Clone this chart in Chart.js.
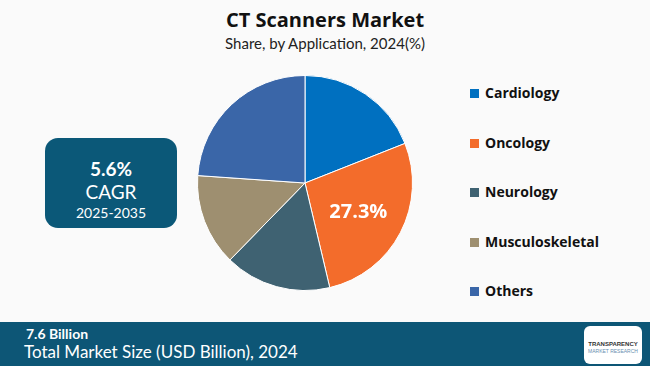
<!DOCTYPE html>
<html>
<head>
<meta charset="utf-8">
<script src="https://cdn.jsdelivr.net/npm/chart.js@4.4.1/dist/chart.umd.min.js"></script>
<style>
  html, body { margin: 0; padding: 0; }
  body { width: 650px; height: 366px; background: #fafafa; position: relative; overflow: hidden; font-family: "Open Sans", "Noto Sans", sans-serif; }
  .title { position: absolute; top: 6px; left: 0; width: 650px; text-align: center; font-size: 20px; font-weight: 700; color: #111; }
  .subtitle { position: absolute; top: 34px; left: 0; width: 650px; text-align: center; font-family: Lato, sans-serif; font-size: 15px; color: #222; }
  #pie-wrap { position: absolute; left: 185px; top: 63px; width: 240px; height: 240px; }
  .legend { position: absolute; left: 470px; top: 0; }
  .legend-item { position: absolute; left: 0; white-space: nowrap; font-size: 14px; font-weight: 700; color: #111; height: 20px; line-height: 20px; }
  .legend-item span.sw { display: inline-block; width: 9px; height: 9px; margin-right: 6px; vertical-align: 0px; }
  .cagr { position: absolute; left: 45px; top: 138px; width: 132px; height: 90px; background: #0b5878; border-radius: 13px; color: #fff; text-align: center; font-family: Lato, sans-serif; }
  .cagr .v { margin-top: 20px; font-size: 19px; font-weight: 700; line-height: 22px; }
  .cagr .l { font-size: 19px; line-height: 24px; }
  .cagr .y { font-size: 14px; line-height: 18px; }
  .footer { position: absolute; left: 0; top: 322px; width: 650px; height: 44px; background: #0d5676; color: #fff; font-family: Lato, sans-serif; }
  .footer .a { position: absolute; left: 26px; top: 3px; font-size: 14px; font-weight: 700; }
  .footer .b { position: absolute; left: 24px; top: 19px; font-size: 17px; }
  .logo { position: absolute; left: 584px; top: 326px; width: 58px; height: 38px; background: #fff; border-radius: 6px; text-align: center; font-family: "Liberation Sans", sans-serif; }
  .logo .t1 { margin-top: 15px; font-size: 6px; font-weight: 700; color: #333; line-height: 7px; }
  .logo .t2 { font-size: 5px; color: #6a8fb0; line-height: 6px; }
</style>
</head>
<body>
<div class="title">CT Scanners Market</div>
<div class="subtitle">Share, by Application, 2024(%)</div>
<div id="pie-wrap"><canvas id="pie"></canvas></div>
<div class="legend" id="legend"></div>
<div class="cagr"><div class="v">5.6%</div><div class="l">CAGR</div><div class="y">2025-2035</div></div>
<div class="footer"><div class="a">7.6 Billion</div><div class="b">Total Market Size (USD Billion), 2024</div></div>
<div class="logo"><div class="t1">TRANSPARENCY</div><div class="t2">MARKET RESEARCH</div></div>
<script>
const categories = ['Cardiology', 'Oncology', 'Neurology', 'Musculoskeletal', 'Others'];
const shares     = [19.0, 27.3, 16.0, 13.8, 23.9];
const colors     = ['#0070c0', '#f36c2b', '#3f6272', '#9e8f70', '#3a66a8'];
const labelled   = ['Oncology'];

// legend, built from the same arrays
const legendEl = document.getElementById('legend');
categories.forEach((c, i) => {
  const d = document.createElement('div');
  d.className = 'legend-item';
  d.style.top = (83 + i * 49.5) + 'px';
  d.innerHTML = `<span class="sw" style="background:${colors[i]}"></span>${c}`;
  legendEl.appendChild(d);
});

// value label on the highlighted slice only
const sliceLabel = {
  id: 'sliceLabel',
  afterDatasetsDraw(chart) {
    const { ctx } = chart;
    const meta = chart.getDatasetMeta(0);
    meta.data.forEach((arc, i) => {
      if (!labelled.includes(categories[i])) return;
      const { x, y, startAngle, endAngle, outerRadius } = arc.getProps(['x', 'y', 'startAngle', 'endAngle', 'outerRadius']);
      const mid = (startAngle + endAngle) / 2;
      const r = outerRadius * 0.56;
      ctx.save();
      ctx.fillStyle = '#fff';
      ctx.font = 'bold 20px "Open Sans", sans-serif';
      ctx.textAlign = 'center';
      ctx.textBaseline = 'middle';
      ctx.fillText(shares[i].toFixed(1) + '%', x + Math.cos(mid) * r, y + Math.sin(mid) * r + 1);
      ctx.restore();
    });
  }
};

new Chart(document.getElementById('pie'), {
  type: 'pie',
  data: {
    labels: categories,
    datasets: [{ data: shares, backgroundColor: colors, borderColor: '#ffffff', borderWidth: 1 }],
  },
  options: {
    responsive: true, maintainAspectRatio: false, animation: false,
    layout: { padding: 12 },
    plugins: { legend: { display: false }, tooltip: { enabled: false } },
  },
  plugins: [sliceLabel],
});
</script>
</body>
</html>
